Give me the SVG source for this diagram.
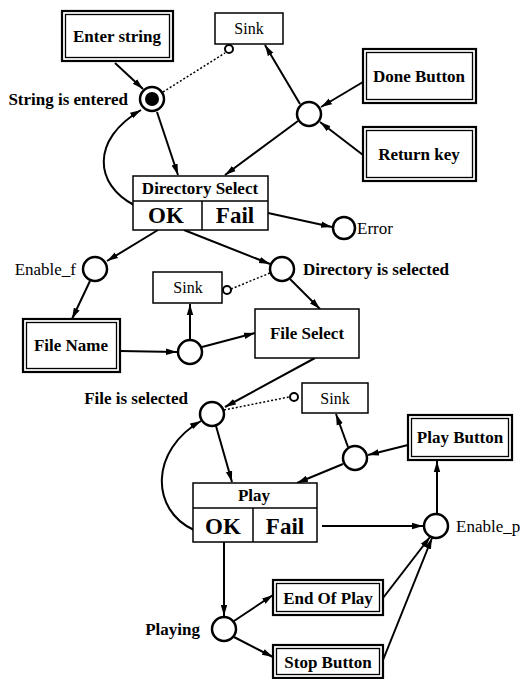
<svg xmlns="http://www.w3.org/2000/svg" width="521" height="679" viewBox="0 0 521 679">
<style>
.box{fill:#fff;stroke:#000;stroke-width:1.5}
.outer{fill:#fff;stroke:#000;stroke-width:2.2}
.inner{fill:none;stroke:#000;stroke-width:1.3}
.place{fill:#fff;stroke:#000;stroke-width:2.5}
.small{fill:#fff;stroke:#000;stroke-width:2}
.edge{fill:none;stroke:#000;stroke-width:2;marker-end:url(#ah)}
.dot{fill:none;stroke:#000;stroke-width:1.5;stroke-dasharray:2 2}
text{font-family:"Liberation Serif","Times New Roman",serif;fill:#000}
.b{font-weight:bold;font-size:17px}
.r{font-size:17px}
.s{font-size:16px}
.big{font-weight:bold;font-size:23px}
.m{text-anchor:middle}
.e{text-anchor:end}
</style>
<defs>
<marker id="ah" markerUnits="userSpaceOnUse" markerWidth="12" markerHeight="8" refX="11" refY="4" orient="auto">
<path d="M0,0.8 L11,4 L0,7.2 z" fill="#000"/>
</marker>
</defs>
<g id="connectors">
<line class="edge" x1="115" y1="63" x2="143" y2="89"/>
<line class="dot" x1="163" y1="92" x2="225" y2="53"/>
<line class="edge" x1="157" y1="112" x2="178" y2="175"/>
<path class="edge" d="M134 205 C95 185 90 140 141 110"/>
<line class="edge" x1="363" y1="82" x2="321" y2="107"/>
<line class="edge" x1="363" y1="155" x2="320" y2="122"/>
<line class="edge" x1="300" y1="104" x2="265" y2="45"/>
<line class="edge" x1="298" y1="121" x2="225" y2="175"/>
<line class="edge" x1="268" y1="213" x2="332" y2="227"/>
<line class="edge" x1="158" y1="230" x2="107" y2="261"/>
<line class="edge" x1="184" y1="230" x2="270" y2="264"/>
<line class="edge" x1="90" y1="281" x2="72" y2="319"/>
<line class="dot" x1="231" y1="289" x2="270" y2="273"/>
<line class="edge" x1="190" y1="340" x2="190" y2="304"/>
<line class="edge" x1="120" y1="351" x2="177" y2="352"/>
<line class="edge" x1="202" y1="347" x2="255" y2="333"/>
<line class="edge" x1="290" y1="279" x2="320" y2="309"/>
<line class="edge" x1="315" y1="358" x2="225" y2="407"/>
<line class="dot" x1="224" y1="410" x2="289" y2="397"/>
<line class="edge" x1="408" y1="445" x2="368" y2="455"/>
<line class="edge" x1="348" y1="447" x2="336" y2="414"/>
<line class="edge" x1="343" y1="464" x2="297" y2="483"/>
<line class="edge" x1="216" y1="426" x2="232" y2="482"/>
<path class="edge" d="M194 530 C150 510 150 450 201 421"/>
<line class="edge" x1="322" y1="526" x2="423" y2="526"/>
<line class="edge" x1="437" y1="514" x2="437" y2="461"/>
<line class="edge" x1="224" y1="542" x2="224" y2="616"/>
<line class="edge" x1="234" y1="621" x2="273" y2="595"/>
<line class="edge" x1="234" y1="637" x2="273" y2="657"/>
<line class="edge" x1="383" y1="598" x2="430" y2="537"/>
<line class="edge" x1="383" y1="660" x2="432" y2="538"/>
</g>
<g id="enter-string"><rect class="outer" x="62" y="11" width="111" height="50"/><rect class="inner" x="65.5" y="14.5" width="104" height="43"/><text class="b m" x="117" y="42">Enter string</text></g>
<g id="sink-top"><rect class="box" x="215" y="13" width="68" height="31"/><text class="s m" x="249" y="34">Sink</text><circle class="small" cx="229" cy="49" r="4"/></g>
<g id="string-entered"><circle class="place" cx="152" cy="99" r="12"/><circle cx="152" cy="99" r="7" fill="#000"/><text class="b e" x="128" y="105">String is entered</text></g>
<g id="directory-select"><rect class="box" x="133" y="176" width="135" height="54"/><line x1="133" y1="201" x2="268" y2="201" stroke="#000" stroke-width="1.5"/><line x1="202" y1="201" x2="202" y2="230" stroke="#000" stroke-width="1.5"/><text class="b m" x="200" y="194">Directory Select</text><text class="big m" x="166" y="223">OK</text><text class="big m" x="235" y="223">Fail</text></g>
<g id="junction-top"><circle class="place" cx="309" cy="114" r="12"/></g>
<g id="done-button"><rect class="outer" x="363" y="49" width="113" height="54"/><rect class="inner" x="366.5" y="52.5" width="106" height="47"/><text class="b m" x="419" y="82">Done Button</text></g>
<g id="return-key"><rect class="outer" x="363" y="127" width="113" height="54"/><rect class="inner" x="366.5" y="130.5" width="106" height="47"/><text class="b m" x="419" y="160">Return  key</text></g>
<g id="error"><circle class="place" cx="344" cy="228" r="11"/><text class="r" x="357" y="234">Error</text></g>
<g id="enable-f"><circle class="place" cx="95" cy="269" r="12"/><text class="r e" x="76" y="275">Enable_f</text></g>
<g id="dir-selected"><circle class="place" cx="282" cy="269" r="12"/><text class="b" x="303" y="275">Directory is selected</text></g>
<g id="file-name"><rect class="outer" x="23" y="319" width="97" height="53"/><rect class="inner" x="26.5" y="322.5" width="90" height="46"/><text class="b m" x="71" y="351">File Name</text></g>
<g id="sink-mid"><rect class="box" x="153" y="272" width="69" height="31"/><text class="s m" x="188" y="293">Sink</text><circle class="small" cx="227" cy="290" r="4"/></g>
<g id="junction-mid"><circle class="place" cx="190" cy="352" r="12"/></g>
<g id="file-select"><rect class="box" x="255" y="309" width="104" height="49"/><text class="b m" x="307" y="339">File Select</text></g>
<g id="file-selected"><circle class="place" cx="212" cy="414" r="12"/><text class="b e" x="188" y="404">File is selected</text></g>
<g id="sink-bottom"><rect class="box" x="302" y="383" width="66" height="30"/><text class="s m" x="335" y="404">Sink</text><circle class="small" cx="294" cy="397" r="4"/></g>
<g id="play-button"><rect class="outer" x="408" y="415" width="104" height="45"/><rect class="inner" x="411.5" y="418.5" width="97" height="38"/><text class="b m" x="460" y="443">Play Button</text></g>
<g id="junction-play"><circle class="place" cx="355" cy="458" r="12"/></g>
<g id="play"><rect class="box" x="193" y="483" width="124" height="59"/><line x1="193" y1="508" x2="317" y2="508" stroke="#000" stroke-width="1.5"/><line x1="253" y1="508" x2="253" y2="542" stroke="#000" stroke-width="1.5"/><text class="b m" x="254" y="501">Play</text><text class="big m" x="223" y="534">OK</text><text class="big m" x="285" y="534">Fail</text></g>
<g id="enable-p"><circle class="place" cx="436" cy="526" r="12"/><text class="r" x="456" y="532">Enable_p</text></g>
<g id="playing"><circle class="place" cx="224" cy="629" r="12"/><text class="b e" x="200" y="635">Playing</text></g>
<g id="end-of-play"><rect class="outer" x="273" y="580" width="110" height="35"/><rect class="inner" x="276.5" y="583.5" width="103" height="28"/><text class="b m" x="328" y="604">End Of Play</text></g>
<g id="stop-button"><rect class="outer" x="273" y="645" width="110" height="33"/><rect class="inner" x="276.5" y="648.5" width="103" height="26"/><text class="b m" x="328" y="668">Stop Button</text></g>
</svg>
